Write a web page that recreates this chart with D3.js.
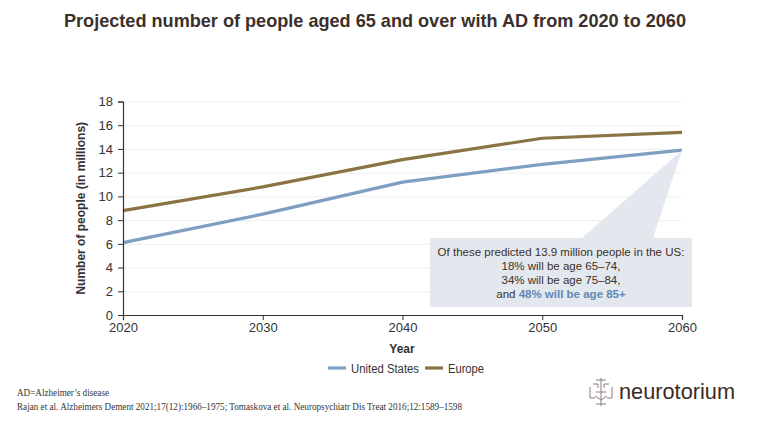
<!DOCTYPE html>
<html>
<head>
<meta charset="utf-8">
<script src="https://cdn.jsdelivr.net/npm/d3@7"></script>
<style>
  body { margin: 0; background: #fff; }
  svg { display: block; font-family: "Liberation Sans", Arial, sans-serif; }
  .grid line { stroke: #efefef; }
  .grid path { display: none; }
  .axis path, .axis line { stroke: #333; }
  .axis text { fill: #333; font-size: 13px; }
</style>
</head>
<body>
<svg width="768" height="433"></svg>
<script>
// データ
const years = [2020, 2030, 2040, 2050, 2060]
const usValues = [6.1, 8.5, 11.2, 12.7, 13.9]
const europeValues = [8.8, 10.8, 13.1, 14.9, 15.4]
const yTicks = [0, 2, 4, 6, 8, 10, 12, 14, 16, 18]
const seriesNames = ['United States', 'Europe']
const colors = ['#7e9ec2', '#8a7443']

const svg = d3.select('svg')

// 描画領域（top は window と被るので別名）
const plotLeft = 123
const plotRight = 682
const plotTop = 101.5
const plotBottom = 315

const xScale = d3.scaleLinear().domain([2020, 2060]).range([plotLeft, plotRight])
const yScale = d3.scaleLinear().domain([0, 18]).range([plotBottom, plotTop])

// タイトル
svg.append('text')
  .attr('x', 64)
  .attr('y', 27)
  .attr('textLength', 622)
  .attr('lengthAdjust', 'spacingAndGlyphs')
  .attr('font-size', 19)
  .attr('font-weight', 'bold')
  .attr('fill', '#3b302b')
  .text('Projected number of people aged 65 and over with AD from 2020 to 2060')

// 横のグリッド線
svg.append('g')
  .attr('class', 'grid')
  .attr('transform', `translate(${plotLeft},0)`)
  .call(d3.axisLeft(yScale).tickValues(yTicks.slice(1)).tickSize(-(plotRight - plotLeft)).tickFormat(''))

// 線
const line = d3.line()
  .x((d, i) => xScale(years[i]))
  .y(d => yScale(d))

;[usValues, europeValues].forEach((vals, k) => {
  svg.append('path')
    .datum(vals)
    .attr('d', line)
    .attr('fill', 'none')
    .attr('stroke', colors[k])
    .attr('stroke-width', 3.2)
    .attr('stroke-linejoin', 'round')
})

// 注釈ボックス（2060の米国の点を指す）
const boxX = 430, boxY = 238, boxW = 262, boxH = 69
const tipX = xScale(2060), tipY = yScale(usValues[4])
svg.append('path')
  .attr('d', `M${boxX},${boxY} L582,${boxY} L${tipX},${tipY} L653,${boxY} L${boxX + boxW},${boxY} L${boxX + boxW},${boxY + boxH} L${boxX},${boxY + boxH} Z`)
  .attr('fill', '#e3e8ee')

const noteLines = [
  ['Of these predicted 13.9 million people in the US:'],
  ['18% will be age 65–74,'],
  ['34% will be age 75–84,'],
  ['and ', '48% will be age 85+']
]
noteLines.forEach((parts, i) => {
  const t = svg.append('text')
    .attr('x', 561)
    .attr('y', 256 + i * 14)
    .attr('text-anchor', 'middle')
    .attr('font-size', 11.5)
    .attr('fill', '#3d302a')
  parts.forEach((p, j) => {
    t.append('tspan')
      .text(p)
      .attr('font-weight', j === 1 ? 'bold' : 'normal')
      .attr('fill', j === 1 ? '#5f88b3' : '#3d302a')
  })
})

// 軸
svg.append('g')
  .attr('class', 'axis')
  .attr('transform', `translate(${plotLeft},0)`)
  .call(d3.axisLeft(yScale).tickValues(yTicks).tickSize(5).tickPadding(5))

svg.append('g')
  .attr('class', 'axis')
  .attr('transform', `translate(0,${plotBottom})`)
  .call(d3.axisBottom(xScale).tickValues(years).tickFormat(d3.format('d')).tickSize(5).tickPadding(3))

svg.selectAll('.axis .domain').attr('stroke-width', 1.2)

// 軸タイトル
svg.append('text')
  .attr('transform', `translate(85,${(plotTop + plotBottom) / 2}) rotate(-90)`)
  .attr('text-anchor', 'middle')
  .attr('font-size', 12)
  .attr('font-weight', 'bold')
  .attr('fill', '#333')
  .text('Number of people (in millions)')

svg.append('text')
  .attr('x', 402)
  .attr('y', 353)
  .attr('text-anchor', 'middle')
  .attr('font-size', 12)
  .attr('font-weight', 'bold')
  .attr('fill', '#333')
  .text('Year')

// 凡例（元図は少し詰まった字なので幅を合わせる）
const legendX = [328, 425]
const legendTextW = [68, 36]
seriesNames.forEach((name, i) => {
  svg.append('line')
    .attr('x1', legendX[i]).attr('x2', legendX[i] + 18)
    .attr('y1', 368).attr('y2', 368)
    .attr('stroke', colors[i])
    .attr('stroke-width', 3.2)
  svg.append('text')
    .attr('x', legendX[i] + 23)
    .attr('y', 372.5)
    .attr('font-size', 12.5)
    .attr('textLength', legendTextW[i])
    .attr('lengthAdjust', 'spacingAndGlyphs')
    .attr('fill', '#333')
    .text(name)
})

// 脚注
svg.append('text')
  .attr('x', 17).attr('y', 396)
  .attr('font-family', '"Liberation Serif", serif')
  .attr('font-size', 9.5)
  .attr('textLength', 92)
  .attr('lengthAdjust', 'spacingAndGlyphs')
  .attr('fill', '#333')
  .text('AD=Alzheimer’s disease')
svg.append('text')
  .attr('x', 17).attr('y', 410)
  .attr('font-family', '"Liberation Serif", serif')
  .attr('font-size', 9.5)
  .attr('textLength', 445)
  .attr('lengthAdjust', 'spacingAndGlyphs')
  .attr('fill', '#333')
  .text('Rajan et al. Alzheimers Dement 2021;17(12):1966–1975; Tomaskova et al. Neuropsychiatr Dis Treat 2016;12:1589–1598')

// ロゴ
const logo = svg.append('g')
  .attr('transform', 'translate(590,378)')
  .attr('stroke', '#8a7d78')
  .attr('stroke-width', 1)
  .attr('fill', 'none')
logo.append('path').attr('d', 'M11,0 V28 M6,2 H16 M6,26 H16 M3,6 H8 V10 M19,6 H14 V10 M0,9 V20 H5 M22,9 V20 H17 M6,14 H16 M5,18 L11,22 L17,18')
svg.append('text')
  .attr('x', 619).attr('y', 399)
  .attr('font-size', 22)
  .attr('textLength', 116)
  .attr('lengthAdjust', 'spacingAndGlyphs')
  .attr('fill', '#3b2a24')
  .text('neurotorium')
</script>
</body>
</html>
